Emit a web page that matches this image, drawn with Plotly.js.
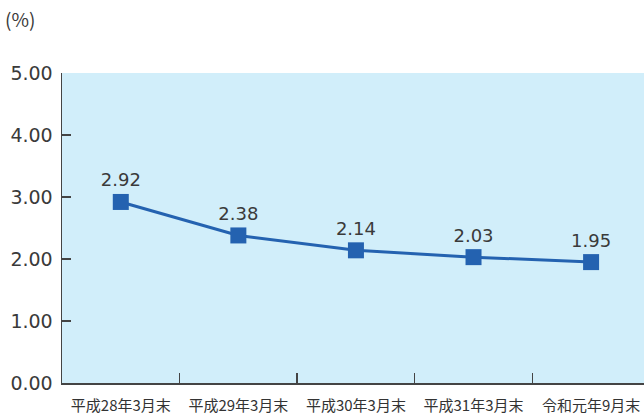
<!DOCTYPE html>
<html><head><meta charset="utf-8">
<script src="https://cdn.plot.ly/plotly-3.0.1.min.js"></script>
<style>html,body{margin:0;padding:0;background:#fff;}#c{width:644px;height:416px;}</style>
</head><body><div id="c"></div>
<script>
const categories = ["平成28年3月末","平成29年3月末","平成30年3月末","平成31年3月末","令和元年9月末"];
const values = [2.92, 2.38, 2.14, 2.03, 1.95];
const valueLabels = ["2.92","2.38","2.14","2.03","1.95"];
const yTicks = [0,1,2,3,4,5];
const yTickLabels = ["0.00","1.00","2.00","3.00","4.00","5.00"];

const numFont = 'DejaVu Sans, sans-serif';
const trace = {
  x: categories, y: values, type: 'scatter', mode: 'lines+markers+text',
  text: valueLabels, textposition: 'top center',
  textfont: {family: numFont, size: 18, color: '#3a3a3a'},
  line: {color: '#2462B0', width: 3},
  marker: {symbol: 'square', size: 16, color: '#2462B0'},
  cliponaxis: false, hoverinfo: 'none'
};
const layout = {
  width: 644, height: 416,
  margin: {l: 62, r: 0, t: 73, b: 33},
  paper_bgcolor: '#fff', plot_bgcolor: '#D1EEFA',
  showlegend: false,
  xaxis: {
    type: 'category', range: [-0.5, 4.45],
    tickson: 'boundaries', ticks: 'inside', ticklen: 10, tickcolor: '#444', tickwidth: 1.5,
    showline: true, linecolor: '#444', linewidth: 1.5, showgrid: false, zeroline: false,
    tickfont: {family: 'Noto Sans CJK JP, sans-serif', size: 15, color: '#333'},
    ticklabelstandoff: 8
  },
  yaxis: {
    range: [0, 5], tickvals: yTicks, ticktext: yTickLabels,
    ticks: 'inside', ticklen: 9, tickcolor: '#444', tickwidth: 1.5,
    showline: true, linecolor: '#444', linewidth: 1.5, showgrid: false, zeroline: false,
    tickfont: {family: numFont, size: 19, color: '#3a3a3a'},
    ticklabelstandoff: 4
  },
  annotations: [{
    text: '(%)', xref: 'paper', yref: 'paper', x: -0.102, y: 1.175, xanchor: 'left', yanchor: 'middle',
    showarrow: false, font: {family: 'Noto Sans CJK JP, sans-serif', size: 19, color: '#3a3a3a'}
  }]
};
Plotly.newPlot('c', [trace], layout, {staticPlot: true, displayModeBar: false});
</script></body></html>
